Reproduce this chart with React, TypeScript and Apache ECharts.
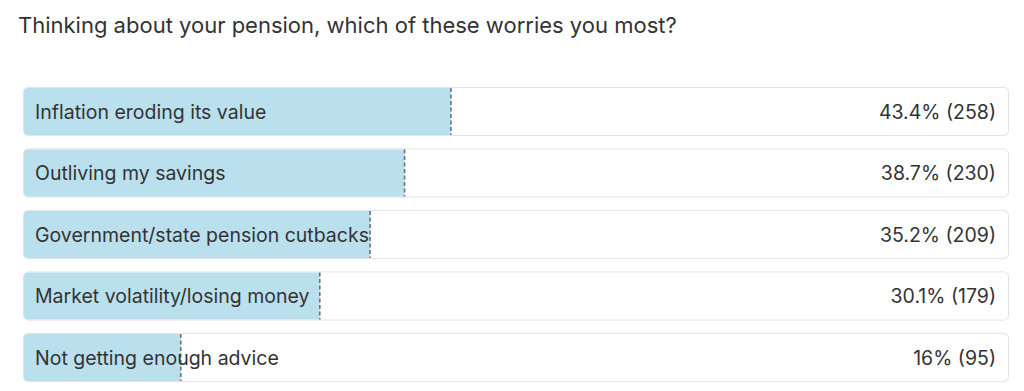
import React, { useEffect, useRef } from "react";
import * as echarts from "echarts";

const title = "Thinking about your pension, which of these worries you most?";
const categories = [
  "Inflation eroding its value",
  "Outliving my savings",
  "Government/state pension cutbacks",
  "Market volatility/losing money",
  "Not getting enough advice",
];
const percents = [43.4, 38.7, 35.2, 30.1, 16];
const counts = [258, 230, 209, 179, 95];

const FONT = "Inter, 'Noto Sans', sans-serif";

export default function App() {
  const ref = useRef<HTMLDivElement>(null);
  useEffect(() => {
    if (!ref.current) return;
    const chart = echarts.init(ref.current, undefined, { renderer: "svg" });
    const data = categories.map((c, i) => [percents[i], i, counts[i]]);
    chart.setOption({
      animation: false,
      backgroundColor: "#ffffff",
      title: {
        text: title,
        left: 13,
        top: 9,
        textStyle: { fontFamily: FONT, fontSize: 22, fontWeight: "normal", color: "#333333" },
      },
      grid: { left: 23, right: 15, top: 80.75, bottom: 2.75, containLabel: false },
      xAxis: { type: "value", min: 0, max: 100, show: false },
      yAxis: { type: "category", data: categories, inverse: true, show: false },
      series: [
        {
          type: "custom",
          data,
          encode: { x: 0, y: 1 },
          renderItem: (params: any, api: any) => {
            const v = api.value(0);
            const idx = api.value(1);
            const cnt = api.value(2);
            const c0 = api.coord([0, idx]);
            const c100 = api.coord([100, idx]);
            const cv = api.coord([v, idx]);
            const band = api.size([0, 1])[1];
            const h = band * 0.8;
            const top = c0[1] - h / 2;
            const x0 = c0[0];
            const x1 = c100[0];
            const xv = cv[0];
            return {
              type: "group",
              children: [
                {
                  type: "rect",
                  shape: { x: x0 + 0.5, y: top + 0.5, width: x1 - x0 - 1, height: h - 1, r: 5 },
                  style: { fill: "#ffffff", stroke: "#e2e2e2", lineWidth: 1 },
                },
                {
                  type: "rect",
                  shape: { x: x0 + 1, y: top + 1, width: xv - x0 - 1, height: h - 2, r: [4, 0, 0, 4] },
                  style: { fill: "#bae0ee" },
                },
                {
                  type: "line",
                  shape: { x1: xv, y1: top + 1, x2: xv, y2: top + h - 1 },
                  style: { stroke: "#707070", lineWidth: 1.6, lineDash: [4, 2.5] },
                },
                {
                  type: "text",
                  style: {
                    text: categories[idx],
                    x: x0 + 12,
                    y: c0[1],
                    fill: "#333333",
                    fontFamily: FONT,
                    fontSize: 19.5,
                    verticalAlign: "middle",
                    align: "left",
                  },
                },
                {
                  type: "text",
                  style: {
                    text: `${v}% (${cnt})`,
                    x: x1 - 13,
                    y: c0[1],
                    fill: "#333333",
                    fontFamily: FONT,
                    fontSize: 19.5,
                    verticalAlign: "middle",
                    align: "right",
                  },
                },
              ],
            };
          },
        },
      ],
    });
    return () => chart.dispose();
  }, []);
  return (
    <div
      ref={ref}
      style={{ position: "fixed", left: 0, top: 0, width: 1024, height: 391, background: "#fff" }}
    />
  );
}
